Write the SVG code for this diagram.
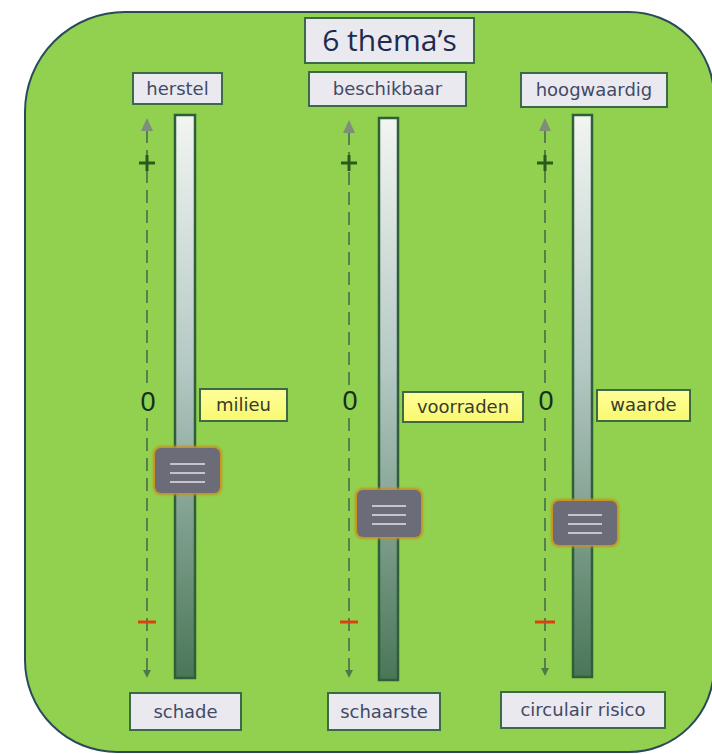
<svg xmlns="http://www.w3.org/2000/svg" width="712" height="754" viewBox="0 0 712 754">
  <defs>
    <linearGradient id="track" x1="0" y1="0" x2="0" y2="1">
      <stop offset="0" stop-color="#f2f5f2"/>
      <stop offset="0.45" stop-color="#b4c8c4"/>
      <stop offset="1" stop-color="#4a7658"/>
    </linearGradient>
    <linearGradient id="yellow" x1="0" y1="0" x2="0" y2="1">
      <stop offset="0" stop-color="#ffff9a"/>
      <stop offset="1" stop-color="#f8f870"/>
    </linearGradient>
    <filter id="glow" x="-30%" y="-30%" width="160%" height="160%">
      <feGaussianBlur stdDeviation="1.2"/>
    </filter>
  </defs>
  <style>
    .box { fill: #e9e9ef; stroke: #3c6a48; stroke-width: 2; }
    .ybox { fill: url(#yellow); stroke: #3c6a48; stroke-width: 2; }
    .lbl { font-family: "DejaVu Sans", Verdana, sans-serif; font-size: 18px; fill: #434a66; text-anchor: middle; }
    .ylbl { font-family: "DejaVu Sans", Verdana, sans-serif; font-size: 18px; fill: #3a3a2a; text-anchor: middle; }
    .title { font-family: "Open Sans", "Noto Sans", sans-serif; font-size: 30px; fill: #1f2b4e; text-anchor: middle; }
    .zero { font-family: "Liberation Sans", Arial, sans-serif; font-size: 27px; fill: #14301a; text-anchor: middle; }
    .track { fill: url(#track); stroke: #2f5f36; stroke-width: 2.5; }
    .axis { stroke: #55804c; stroke-width: 2; stroke-dasharray: 13 7; fill: none; }
    .uphead { fill: #7d8f78; }
    .downhead { fill: #4f7a48; }
    .plus { stroke: #2a5a1a; stroke-width: 3; }
    .minus { stroke: #d8430f; stroke-width: 3; }
    .knobglow { fill: none; stroke: #c8901a; stroke-width: 4; filter: url(#glow); }
    .knob { fill: #6c6c78; }
    .grip { stroke: #c4c4cc; stroke-width: 2; }
  </style>

  <path id="background" d="M25,112 A100,100 0 0 1 125,12 L629,12 A85,85 0 0 1 714,97 L714,667 A85,85 0 0 1 629,752 L117,752 A92,92 0 0 1 25,660 Z" fill="#92d050" stroke="#2a4a5a" stroke-width="2"/>

  <g id="title">
    <rect class="box" x="305" y="18" width="169" height="45"/>
    <text class="title" x="389.5" y="51">6 thema’s</text>
  </g>

  <g id="connectors">
    <line class="axis" x1="147" y1="130" x2="147" y2="386"/>
    <polygon class="uphead" points="141,131 147,118 153,131"/>
    <line class="axis" x1="147" y1="418" x2="147" y2="671"/>
    <polygon class="downhead" points="143,670 147,678 151,670"/>
    <line class="axis" x1="349" y1="132" x2="349" y2="386"/>
    <polygon class="uphead" points="343,133 349,120 355,133"/>
    <line class="axis" x1="349" y1="418" x2="349" y2="671"/>
    <polygon class="downhead" points="345,670 349,678 353,670"/>
    <line class="axis" x1="545" y1="130" x2="545" y2="386"/>
    <polygon class="uphead" points="539,131 545,118 551,131"/>
    <line class="axis" x1="545" y1="418" x2="545" y2="669"/>
    <polygon class="downhead" points="541,668 545,676 549,668"/>
  </g>

  <g id="slider-herstel">
    <rect class="box" x="133" y="73" width="89" height="31"/>
    <text class="lbl" x="177.5" y="95">herstel</text>
    <rect class="track" x="175" y="115" width="20" height="563"/>
    <line class="plus" x1="139" y1="163" x2="155" y2="163"/>
    <line class="plus" x1="147" y1="155" x2="147" y2="171"/>
    <line class="minus" x1="138" y1="622" x2="156" y2="622"/>
    <text class="zero" x="148" y="411">0</text>
    <rect class="ybox" x="200" y="389" width="87" height="32"/>
    <text class="ylbl" x="243.5" y="411">milieu</text>
    <rect class="knobglow" x="155" y="448" width="65" height="45" rx="6"/>
    <rect class="knob" x="155" y="448" width="65" height="45" rx="6"/>
    <line class="grip" x1="170" y1="464" x2="205" y2="464"/>
    <line class="grip" x1="170" y1="473" x2="205" y2="473"/>
    <line class="grip" x1="170" y1="482" x2="205" y2="482"/>
    <rect class="box" x="130" y="693" width="111" height="37"/>
    <text class="lbl" x="185.5" y="718">schade</text>
  </g>

  <g id="slider-beschikbaar">
    <rect class="box" x="309" y="72" width="157" height="34"/>
    <text class="lbl" x="387.5" y="95">beschikbaar</text>
    <rect class="track" x="379" y="118" width="19" height="562"/>
    <line class="plus" x1="341" y1="163" x2="357" y2="163"/>
    <line class="plus" x1="349" y1="155" x2="349" y2="171"/>
    <line class="minus" x1="340" y1="622" x2="358" y2="622"/>
    <text class="zero" x="350" y="410">0</text>
    <rect class="ybox" x="403" y="392" width="120" height="30"/>
    <text class="ylbl" x="463" y="413">voorraden</text>
    <rect class="knobglow" x="357" y="490" width="64" height="47" rx="6"/>
    <rect class="knob" x="357" y="490" width="64" height="47" rx="6"/>
    <line class="grip" x1="372" y1="506" x2="406" y2="506"/>
    <line class="grip" x1="372" y1="515" x2="406" y2="515"/>
    <line class="grip" x1="372" y1="524" x2="406" y2="524"/>
    <rect class="box" x="328" y="693" width="112" height="37"/>
    <text class="lbl" x="384" y="718">schaarste</text>
  </g>

  <g id="slider-hoogwaardig">
    <rect class="box" x="521" y="73" width="146" height="34"/>
    <text class="lbl" x="594" y="96">hoogwaardig</text>
    <rect class="track" x="573" y="115" width="19" height="562"/>
    <line class="plus" x1="537" y1="163" x2="553" y2="163"/>
    <line class="plus" x1="545" y1="155" x2="545" y2="171"/>
    <line class="minus" x1="535" y1="622" x2="555" y2="622"/>
    <text class="zero" x="546" y="410">0</text>
    <rect class="ybox" x="597" y="390" width="93" height="31"/>
    <text class="ylbl" x="643.5" y="411">waarde</text>
    <rect class="knobglow" x="553" y="501" width="64" height="44" rx="6"/>
    <rect class="knob" x="553" y="501" width="64" height="44" rx="6"/>
    <line class="grip" x1="568" y1="515" x2="602" y2="515"/>
    <line class="grip" x1="568" y1="524" x2="602" y2="524"/>
    <line class="grip" x1="568" y1="533" x2="602" y2="533"/>
    <rect class="box" x="501" y="692" width="164" height="36"/>
    <text class="lbl" x="583" y="716">circulair risico</text>
  </g>
</svg>
